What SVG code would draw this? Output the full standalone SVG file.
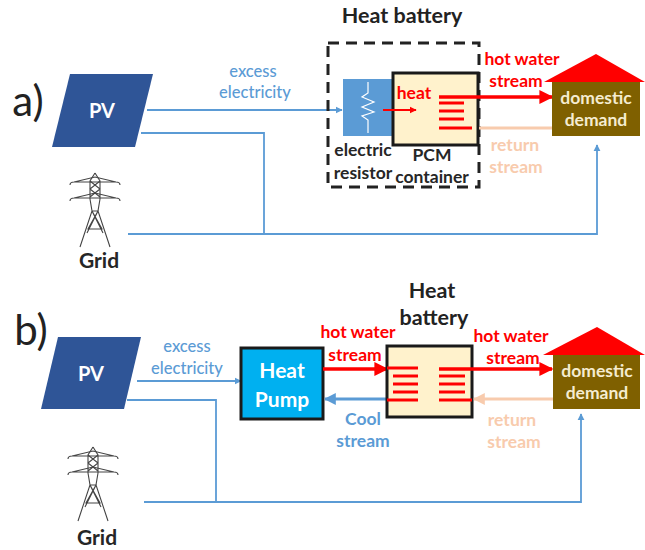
<svg xmlns="http://www.w3.org/2000/svg" width="645" height="550" viewBox="0 0 645 550">
<style>
text{font-family:"Lato","Open Sans","Liberation Sans",sans-serif;text-anchor:middle;font-size:17.5px}
.blue{fill:#5b9bd5;font-weight:500;font-size:16.5px}.red{fill:#f00;font-weight:700}.pale{fill:#f8cbad;font-weight:700}
.blk{fill:#262626;font-weight:700}.wht{fill:#fff;font-weight:700}.cream{fill:#f5ecd0;font-weight:700}
.big{font-size:42px;fill:#222;font-weight:400}.ttl{font-size:21.5px;fill:#222;font-weight:700}
.el{fill:none;stroke:#5b9bd5;stroke-width:1.8}
.hot{fill:none;stroke:#f00;stroke-width:3.5}
.coil{fill:none;stroke:#f00;stroke-width:3.2}
.ret{fill:none;stroke:#f8cbad;stroke-width:3}
.cool{fill:none;stroke:#5b9bd5;stroke-width:3}
.pv{fill:#2f5597}.pcm{fill:#fff2cc;stroke:#1a1a1a;stroke-width:3}
.house{fill:#7f6000}.roof{fill:#f00}
.tw{fill:none;stroke:#444;stroke-width:1.1}
</style>
<defs>
<marker id="mb" markerWidth="4" markerHeight="4" refX="3.6" refY="2" orient="auto"><path d="M0 0L4 2L0 4z" fill="#5b9bd5"/></marker>
<marker id="mr" markerWidth="4" markerHeight="4" refX="3.6" refY="2" orient="auto"><path d="M0 0L4 2L0 4z" fill="#f00"/></marker>
<marker id="mp" markerWidth="4" markerHeight="4" refX="3.6" refY="2" orient="auto"><path d="M0 0L4 2L0 4z" fill="#f8cbad"/></marker>
<marker id="mc" markerWidth="4" markerHeight="4" refX="3.6" refY="2" orient="auto"><path d="M0 0L4 2L0 4z" fill="#5b9bd5"/></marker>
<g id="tower">
<path class="tw" d="M0 0L-5 8V26L-3 38L-15 74M0 0L5 8V26L3 38L15 74M-5 8L5 16L-5 24M5 8L-5 16L5 24M-3 38H3L-7 56H7L-3 38M3 38L-8 60M-3 38L8 60"/>
<path class="tw" stroke-width="1.6" d="M-25 12Q-25 9-21 9L0 4L21 9Q25 9 25 12M-21 9H21M-25 28Q-25 25-21 25L0 20L21 25Q25 25 25 28M-21 25H21"/>
</g>
</defs>

<g id="connectors">
<path class="el" marker-end="url(#mb)" d="M147 110H342"/>
<path class="el" d="M141 133H264V234"/>
<path class="el" marker-end="url(#mb)" d="M128 234H597V145"/>
<path class="el" marker-end="url(#mb)" d="M137 381H241"/>
<path class="el" d="M127 400H216V502"/>
<path class="el" marker-end="url(#mb)" d="M144 502H581V414"/>
</g>

<g id="label-a"><text class="big" x="28" y="116">a)</text></g>
<g id="label-b"><text class="big" x="31" y="345">b)</text></g>

<g id="pv-a"><path class="pv" d="M70 74H153L135 147H52z"/><text class="wht" x="102" y="118" style="font-size:20px">PV</text></g>
<g id="grid-a"><use href="#tower" x="95" y="173"/><text class="blk" x="99" y="268" style="font-size:21px">Grid</text></g>
<g id="excess-a"><text class="blue" x="253" y="77">excess</text><text class="blue" x="255" y="98">electricity</text></g>

<g id="heat-battery-a">
<text class="ttl" x="402" y="23">Heat battery</text>
<rect x="328" y="43" width="151" height="144" fill="none" stroke="#222" stroke-width="3" stroke-dasharray="11 7"/>
</g>
<g id="resistor">
<rect x="343" y="79" width="50" height="57" fill="#5b9bd5"/>
<path fill="none" stroke="#fff" stroke-width="1.2" d="M368 82V93L362 97L374 102L362 107L374 112L362 116L368 120V133"/>
<text class="blk" x="363" y="156">electric</text><text class="blk" x="363" y="179">resistor</text>
</g>
<g id="pcm-a">
<rect class="pcm" x="393" y="73" width="85" height="72"/>
<text class="blk" x="432" y="161">PCM</text><text class="blk" x="432" y="183">container</text>
<text class="red" x="414" y="99">heat</text>
<path fill="none" stroke="#f00" stroke-width="1.8" marker-end="url(#mr)" d="M383 110H416"/>
<path class="coil" d="M439 103H464M439 111H464M439 119H464M439 128H472"/>
</g>
<g id="flows-a">
<path class="hot" marker-end="url(#mr)" d="M439 97H552"/>
<path class="ret" d="M552 128H479"/>
<text class="red" x="522" y="65">hot water</text><text class="red" x="516" y="87">stream</text>
<text class="pale" x="515" y="151">return</text><text class="pale" x="516" y="173">stream</text>
</g>
<g id="demand-a">
<rect class="house" x="552" y="82" width="88" height="54"/>
<path class="roof" d="M544 82L596 54L645 82z"/>
<text class="cream" x="596" y="104">domestic</text><text class="cream" x="596" y="126">demand</text>
</g>

<g id="pv-b"><path class="pv" d="M58 337H141L124 409H41z"/><text class="wht" x="91" y="381" style="font-size:20px">PV</text></g>
<g id="grid-b"><use href="#tower" x="93" y="447"/><text class="blk" x="97" y="545" style="font-size:21px">Grid</text></g>
<g id="excess-b"><text class="blue" x="187" y="352">excess</text><text class="blue" x="187" y="374">electricity</text></g>
<g id="heat-pump">
<rect x="241" y="348" width="82" height="71" fill="#00b0f0" stroke="#1a1a1a" stroke-width="3"/>
<text class="wht" x="282" y="378" style="font-size:21px">Heat</text><text class="wht" x="282" y="407" style="font-size:21px">Pump</text>
</g>
<g id="flows-b-left">
<path class="hot" marker-end="url(#mr)" d="M323 369H387"/>
<path class="cool" marker-end="url(#mc)" d="M387 399H325"/>
<text class="red" x="358" y="338">hot water</text><text class="red" x="355" y="361">stream</text>
<text class="blue" x="363" y="425" style="font-weight:700;font-size:17.5px">Cool</text><text class="blue" x="363" y="447" style="font-weight:700;font-size:17.5px">stream</text>
</g>
<g id="heat-battery-b">
<text class="ttl" x="432" y="298">Heat</text><text class="ttl" x="434" y="325">battery</text>
<rect class="pcm" x="387" y="346" width="85" height="71"/>
<path class="coil" d="M387 368H418M393 376H418M393 384H418M393 392H418M387 400H418M439 376H465M439 384H465M439 392H465M439 400H472"/>
</g>
<g id="flows-b-right">
<path class="hot" marker-end="url(#mr)" d="M439 369H552"/>
<path class="ret" marker-end="url(#mp)" d="M553 399H474"/>
<text class="red" x="511" y="342">hot water</text><text class="red" x="513" y="364">stream</text>
<text class="pale" x="512" y="426">return</text><text class="pale" x="514" y="448">stream</text>
</g>
<g id="demand-b">
<rect class="house" x="553" y="355" width="87" height="54"/>
<path class="roof" d="M543 355L597 327L645 355z"/>
<text class="cream" x="597" y="377">domestic</text><text class="cream" x="597" y="399">demand</text>
</g>
</svg>
